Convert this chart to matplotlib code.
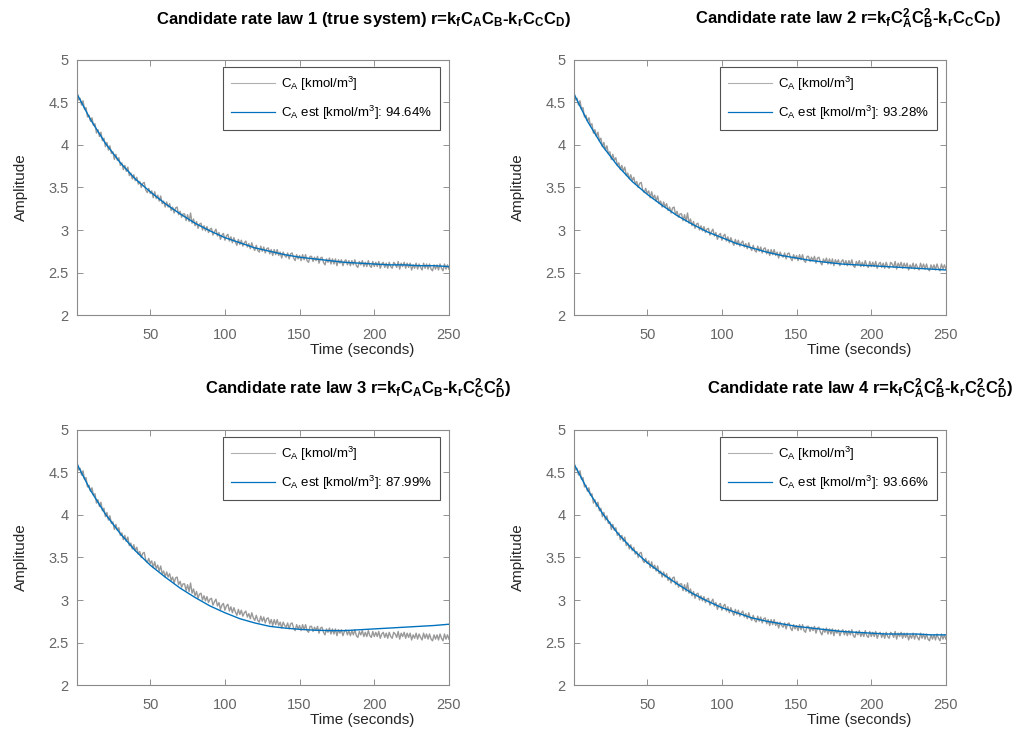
import numpy as np
import matplotlib
matplotlib.use("Agg")
import matplotlib.pyplot as plt

plt.rcParams['font.family'] = ['Liberation Sans', 'DejaVu Sans']
plt.rcParams['mathtext.fontset'] = 'custom'
plt.rcParams['mathtext.rm'] = 'Liberation Sans'
plt.rcParams['mathtext.bf'] = 'Liberation Sans:bold'
plt.rcParams['mathtext.it'] = 'Liberation Sans:italic'
plt.rcParams['mathtext.default'] = 'rm'

# -----------------------------------------------------
# measured C_A (same data in every panel), 1 sample per second
# -----------------------------------------------------
t_meas = np.arange(1, 251)
ca_meas = [
    4.63, 4.53, 4.55, 4.47, 4.52, 4.42, 4.44, 4.33, 4.35, 4.28,
    4.32, 4.23, 4.25, 4.14, 4.18, 4.10, 4.15, 4.05, 4.08, 3.98,
    4.03, 3.94, 3.99, 3.90, 3.92, 3.83, 3.89, 3.82, 3.85, 3.76,
    3.79, 3.71, 3.76, 3.69, 3.74, 3.64, 3.67, 3.60, 3.65, 3.58,
    3.62, 3.54, 3.57, 3.50, 3.55, 3.56, 3.47, 3.44, 3.49, 3.43,
    3.46, 3.38, 3.45, 3.37, 3.41, 3.34, 3.40, 3.31, 3.34, 3.27,
    3.33, 3.27, 3.31, 3.23, 3.27, 3.20, 3.26, 3.27, 3.18, 3.22,
    3.15, 3.19, 3.19, 3.11, 3.18, 3.10, 3.20, 3.08, 3.13, 3.05,
    3.10, 3.02, 3.07, 3.08, 3.00, 3.05, 2.99, 3.04, 2.97, 3.01,
    3.02, 2.94, 2.98, 3.01, 2.93, 2.97, 2.89, 2.94, 2.96, 2.88,
    2.93, 2.95, 2.87, 2.92, 2.85, 2.91, 2.86, 2.82, 2.89, 2.83,
    2.88, 2.81, 2.85, 2.87, 2.80, 2.84, 2.78, 2.85, 2.79, 2.76,
    2.82, 2.76, 2.74, 2.81, 2.75, 2.80, 2.73, 2.78, 2.79, 2.72,
    2.77, 2.70, 2.77, 2.71, 2.77, 2.70, 2.74, 2.67, 2.74, 2.70,
    2.68, 2.73, 2.66, 2.72, 2.73, 2.67, 2.64, 2.71, 2.66, 2.70,
    2.64, 2.71, 2.65, 2.71, 2.64, 2.62, 2.69, 2.69, 2.63, 2.68,
    2.64, 2.69, 2.61, 2.67, 2.68, 2.62, 2.59, 2.66, 2.62, 2.67,
    2.60, 2.66, 2.60, 2.66, 2.58, 2.65, 2.61, 2.65, 2.58, 2.63,
    2.65, 2.59, 2.64, 2.58, 2.64, 2.59, 2.65, 2.58, 2.56, 2.63,
    2.59, 2.64, 2.57, 2.62, 2.57, 2.64, 2.58, 2.56, 2.63, 2.57,
    2.62, 2.57, 2.63, 2.55, 2.60, 2.62, 2.56, 2.61, 2.55, 2.62,
    2.57, 2.55, 2.62, 2.60, 2.56, 2.63, 2.54, 2.61, 2.57, 2.62,
    2.55, 2.61, 2.56, 2.61, 2.53, 2.59, 2.55, 2.61, 2.54, 2.60,
    2.56, 2.53, 2.61, 2.55, 2.60, 2.54, 2.60, 2.54, 2.52, 2.59,
    2.54, 2.59, 2.53, 2.60, 2.55, 2.52, 2.60, 2.54, 2.59, 2.54,
]

# -----------------------------------------------------
# model outputs, every 10 seconds
# -----------------------------------------------------
t_est = [1, 10, 20, 30, 40, 50, 60, 70, 80, 90, 100, 110, 120, 130,
         140, 150, 160, 170, 180, 190, 200, 210, 220, 230, 240, 250]
est_law1 = [4.60, 4.30, 4.02, 3.79, 3.60, 3.45, 3.31, 3.19, 3.08, 2.99, 2.91, 2.85, 2.79,
            2.75, 2.71, 2.68, 2.66, 2.64, 2.62, 2.61, 2.60, 2.59, 2.59, 2.58, 2.58, 2.57]
est_law2 = [4.60, 4.28, 3.99, 3.76, 3.57, 3.42, 3.29, 3.17, 3.07, 2.98, 2.91, 2.84, 2.79,
            2.74, 2.70, 2.67, 2.64, 2.62, 2.60, 2.59, 2.58, 2.57, 2.56, 2.55, 2.54, 2.53]
est_law3 = [4.60, 4.29, 4.01, 3.78, 3.58, 3.41, 3.27, 3.14, 3.03, 2.93, 2.85, 2.78, 2.73,
            2.69, 2.67, 2.655, 2.645, 2.64, 2.64, 2.65, 2.66, 2.67, 2.68, 2.69, 2.70, 2.715]
est_law4 = [4.60, 4.30, 4.02, 3.79, 3.60, 3.44, 3.31, 3.19, 3.08, 2.99, 2.91, 2.85, 2.79,
            2.75, 2.72, 2.69, 2.67, 2.65, 2.63, 2.62, 2.61, 2.60, 2.60, 2.60, 2.59, 2.59]
fit_pct = ["94.64", "93.28", "87.99", "93.66"]

titles = [
    r"Candidate rate law 1 (true system) r=k$_\mathbf{f}$C$_\mathbf{A}$C$_\mathbf{B}$-k$_\mathbf{r}$C$_\mathbf{C}$C$_\mathbf{D}$)",
    r"Candidate rate law 2 r=k$_\mathbf{f}$C$^\mathbf{2}_\mathbf{A}$C$^\mathbf{2}_\mathbf{B}$-k$_\mathbf{r}$C$_\mathbf{C}$C$_\mathbf{D}$)",
    r"Candidate rate law 3 r=k$_\mathbf{f}$C$_\mathbf{A}$C$_\mathbf{B}$-k$_\mathbf{r}$C$^\mathbf{2}_\mathbf{C}$C$^\mathbf{2}_\mathbf{D}$)",
    r"Candidate rate law 4 r=k$_\mathbf{f}$C$^\mathbf{2}_\mathbf{A}$C$^\mathbf{2}_\mathbf{B}$-k$_\mathbf{r}$C$^\mathbf{2}_\mathbf{C}$C$^\mathbf{2}_\mathbf{D}$)",
]
estimates = [est_law1, est_law2, est_law3, est_law4]

fig = plt.figure(figsize=(10.19, 7.35), dpi=100)
positions = [
    [0.0756, 0.5714, 0.365, 0.347],
    [0.5633, 0.5714, 0.365, 0.347],
    [0.0756, 0.068, 0.365, 0.347],
    [0.5633, 0.068, 0.365, 0.347],
]
title_x = [0.769, 0.737, 0.755, 0.769]

for i in range(4):
    ax = fig.add_axes(positions[i])
    ax.plot(t_meas, ca_meas, color="#999999", lw=1.0,
            label=r"C$_\mathrm{A}$ [kmol/m$^\mathrm{3}$]")
    ax.plot(t_est, estimates[i], color="#0072BD", lw=1.0,
            label=r"C$_\mathrm{A}$ est [kmol/m$^\mathrm{3}$]: " + fit_pct[i] + "%")
    ax.set_xlim(1, 250)
    ax.set_ylim(2, 5)
    ax.set_xticks([50, 100, 150, 200, 250])
    ax.set_yticks([2, 2.5, 3, 3.5, 4, 4.5, 5])
    ax.set_yticklabels(["2", "2.5", "3", "3.5", "4", "4.5", "5"])
    ax.tick_params(direction="in", top=True, right=True, length=4, width=0.6,
                   colors="#808080", labelcolor="#666666", labelsize=10.5)
    ax.tick_params(axis="x", pad=9)
    ax.tick_params(axis="y", pad=6)
    for sp in ax.spines.values():
        sp.set_color("#8a8a8a")
        sp.set_linewidth(0.8)
    ax.set_ylabel("Amplitude", fontsize=11, color="#262626", labelpad=15)
    ax.set_xlabel("Time (seconds)", fontsize=11, color="#262626")
    ax.xaxis.set_label_coords(0.766, -0.11)
    ax.text(title_x[i], 1.16, titles[i], transform=ax.transAxes, ha="center",
            va="center", fontsize=12, fontweight="bold", color="black")
    leg = ax.legend(loc="upper right", bbox_to_anchor=(0.976, 0.973), borderaxespad=0,
                    fontsize=9.5, frameon=True, fancybox=False, handlelength=3.3,
                    borderpad=0.6, labelspacing=0.8, handletextpad=0.5)
    leg.get_frame().set_edgecolor("#262626")
    leg.get_frame().set_linewidth(0.8)
    leg.legend_handles[0].set_color("#b0b0b0")
    leg.legend_handles[0].set_linewidth(0.8)
    leg.legend_handles[1].set_linewidth(0.9)

fig.savefig("out.png", dpi=100)
